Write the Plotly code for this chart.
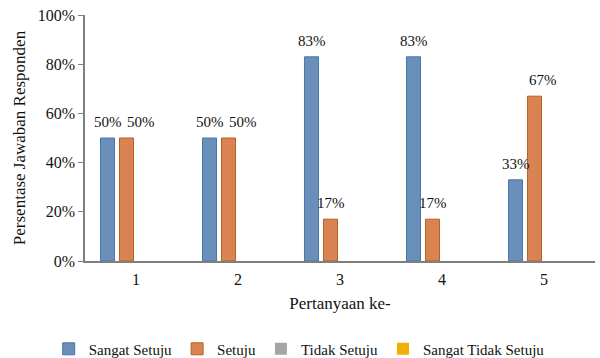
import plotly.graph_objects as go

categories = ["1", "2", "3", "4", "5"]
sangat_setuju = [0.50, 0.50, 0.83, 0.83, 0.33]
setuju = [0.50, 0.50, 0.17, 0.17, 0.67]
tidak_setuju = [0, 0, 0, 0, 0]
sangat_tidak_setuju = [0, 0, 0, 0, 0]
y_ticks = [0, 0.2, 0.4, 0.6, 0.8, 1.0]
y_tick_labels = ["0%", "20%", "40%", "60%", "80%", "100%"]

series = [
    ("Sangat Setuju", sangat_setuju, "#6a8fba", "#4a76a6"),
    ("Setuju", setuju, "#d98252", "#b5631f"),
    ("Tidak Setuju", tidak_setuju, "#a5a5a5", "#8a8a8a"),
    ("Sangat Tidak Setuju", sangat_tidak_setuju, "#f0b000", "#c99400"),
]
# pixel nudges of the "Setuju" value labels, as placed in the original
setuju_label_nudge = [14, 14, 0, 0, 8]

FONT = "Liberation Serif"
BARGAP = 0.255
GROUPGAP = 0.26
n = len(series)
slot = (1 - BARGAP) / n

fig = go.Figure()
annotations = []
for k, (name, vals, color, border) in enumerate(series):
    fig.add_trace(go.Bar(
        x=categories, y=vals, name=name,
        marker=dict(color=color, line=dict(color=border, width=1 if max(vals) > 0 else 0)),
    ))
    off = (k - (n - 1) / 2) * slot
    for i, v in enumerate(vals):
        if v <= 0:
            continue
        shift = setuju_label_nudge[i] if k == 1 else 0
        annotations.append(dict(
            x=i + off, y=v, xref="x", yref="y", text=f"{round(v*100)}%",
            showarrow=False, yanchor="bottom", yshift=6, xshift=shift,
            font=dict(family=FONT, size=15, color="#111111"),
        ))

fig.update_layout(
    width=600, height=358,
    margin=dict(l=85, r=5, t=15, b=97, autoexpand=False),
    paper_bgcolor="white", plot_bgcolor="white",
    barmode="group", bargap=BARGAP, bargroupgap=GROUPGAP,
    font=dict(family=FONT, size=15, color="#111111"),
    showlegend=True,
    legend=dict(orientation="h", x=0.42, xanchor="center", y=-0.358, yanchor="middle",
                font=dict(family=FONT, size=15, color="#111111"),
                itemwidth=30, tracegroupgap=0),
    annotations=annotations,
)
fig.update_xaxes(
    type="category", showline=True, linecolor="#7f7f7f", linewidth=1.5,
    ticks="outside", ticklen=3, tickcolor="rgba(0,0,0,0)",
    showgrid=False, zeroline=False, automargin=False,
    tickfont=dict(family=FONT, size=16),
    title=dict(text="Pertanyaan ke-", font=dict(family=FONT, size=17), standoff=10),
)
fig.update_yaxes(
    range=[0, 1.0], tickvals=y_ticks, ticktext=y_tick_labels,
    showline=True, linecolor="#7f7f7f", linewidth=1.5,
    ticks="outside", ticklen=5, tickcolor="#7f7f7f",
    showgrid=False, zeroline=False, automargin=False,
    tickfont=dict(family=FONT, size=16),
    title=dict(text="Persentase Jawaban Responden", font=dict(family=FONT, size=17), standoff=8),
)

fig.write_html("out.html")
